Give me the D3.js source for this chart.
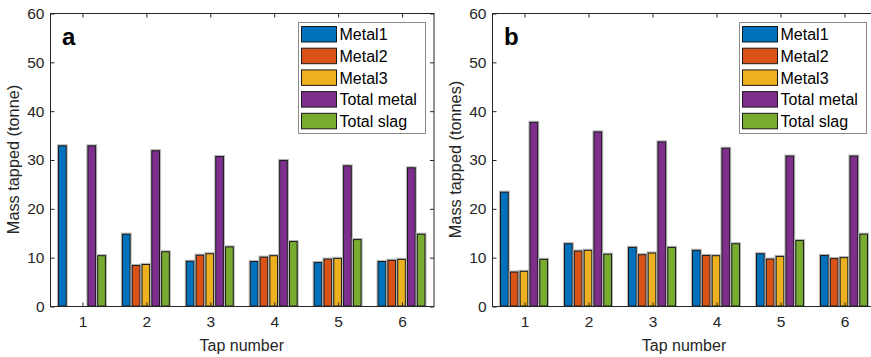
<!DOCTYPE html>
<html>
<head>
<meta charset="utf-8">
<script src="https://cdn.jsdelivr.net/npm/d3@7"></script>
<style>
  body { margin: 0; background: #fff; }
  svg { display: block; font-family: "Liberation Sans", Arial, sans-serif; }
</style>
</head>
<body>
<svg id="chart" width="871" height="357"></svg>
<script>
// values
var taps = [1, 2, 3, 4, 5, 6];
var seriesNames = ['Metal1', 'Metal2', 'Metal3', 'Total metal', 'Total slag'];
var seriesColors = ['#0072BD', '#D95319', '#EDB120', '#7E2F8E', '#77AC30'];
var yTicks = [0, 10, 20, 30, 40, 50, 60];

var metal1A = [32.8, 14.7, 9.15, 9.1, 8.9, 9.1];
var metal2A = [0, 8.3, 10.4, 10.0, 9.6, 9.35];
var metal3A = [0, 8.5, 10.7, 10.3, 9.75, 9.55];
var totalMetalA = [32.8, 31.8, 30.6, 29.8, 28.7, 28.3];
var totalSlagA = [10.3, 11.1, 12.1, 13.2, 13.6, 14.7];

var metal1B = [23.3, 12.75, 12.0, 11.4, 10.7, 10.35];
var metal2B = [6.95, 11.25, 10.5, 10.35, 9.6, 9.7];
var metal3B = [7.1, 11.4, 10.85, 10.3, 10.15, 9.9];
var totalMetalB = [37.6, 35.65, 33.6, 32.3, 30.7, 30.7];
var totalSlagB = [9.55, 10.6, 12.0, 12.75, 13.4, 14.7];

var ink = '#262626';
var svg = d3.select('#chart');

var panels = [
  {letter: 'a', ylabel: 'Mass tapped (tonne)', left: 50, right: 433.5, legendX: 298,
   series: [metal1A, metal2A, metal3A, totalMetalA, totalSlagA]},
  {letter: 'b', ylabel: 'Mass tapped (tonnes)', left: 492, right: 876, legendX: 739,
   series: [metal1B, metal2B, metal3B, totalMetalB, totalSlagB]}
];

var plotTop = 13, plotBottom = 306;
var groupWidth = 0.767;
var slot = groupWidth / seriesNames.length;

panels.forEach(function(p) {
  var x = d3.scaleLinear().domain([0.5, 6.5]).range([p.left, p.right]);
  var y = d3.scaleLinear().domain([0, 60]).range([plotBottom, plotTop]);
  var g = svg.append('g');
  var barW = (x(slot) - x(0)) * 0.78;

  // bars
  p.series.forEach(function(vals, j) {
    var bars = g.append('g');
    vals.forEach(function(v, i) {
      if (!v) return;
      var cx = x(taps[i] + (j - 2) * slot);
      // soft grey halo like the reference
      bars.append('rect')
        .attr('x', cx - barW / 2 - 0.5).attr('y', y(v) - 0.5)
        .attr('width', barW + 1).attr('height', y(0) - y(v) + 0.5)
        .attr('fill', 'none').attr('stroke', '#b8b8b8').attr('stroke-width', 2.2);
      bars.append('rect')
        .attr('x', cx - barW / 2).attr('y', y(v))
        .attr('width', barW).attr('height', y(0) - y(v))
        .attr('fill', seriesColors[j]).attr('stroke', '#1a1a1a').attr('stroke-width', 1);
    });
  });

  // box
  g.append('rect')
    .attr('x', p.left + 0.5).attr('y', plotTop + 0.5)
    .attr('width', p.right - p.left).attr('height', plotBottom - plotTop)
    .attr('fill', 'none').attr('stroke', ink).attr('stroke-width', 1);

  // axes with inward ticks
  var xAxis = d3.axisBottom(x).tickValues(taps).tickFormat(d3.format('d'))
    .tickSizeInner(-4).tickSizeOuter(0).tickPadding(9);
  var xTop = d3.axisTop(x).tickValues(taps).tickSizeInner(-4).tickSizeOuter(0).tickFormat('');
  var yAxis = d3.axisLeft(y).tickValues(yTicks).tickFormat(d3.format('d'))
    .tickSizeInner(-4).tickSizeOuter(0).tickPadding(6);
  var yRight = d3.axisRight(y).tickValues(yTicks).tickSizeInner(-4).tickSizeOuter(0).tickFormat('');

  [[xAxis, 'translate(0.5,' + (plotBottom + 0.5) + ')'],
   [xTop, 'translate(0.5,' + (plotTop + 0.5) + ')'],
   [yAxis, 'translate(' + (p.left + 0.5) + ',0.5)'],
   [yRight, 'translate(' + (p.right + 0.5) + ',0.5)']].forEach(function(a) {
    var ax = g.append('g').attr('transform', a[1]).call(a[0]);
    ax.select('.domain').remove();
    ax.selectAll('line').attr('stroke', ink);
    ax.selectAll('text').attr('fill', ink)
      .style('font-size', '15.5px').style('font-family', '"Liberation Sans", Arial, sans-serif');
  });

  // labels
  g.append('text')
    .attr('x', (p.left + p.right) / 2).attr('y', 351)
    .attr('text-anchor', 'middle').attr('fill', ink).style('font-size', '16px')
    .text('Tap number');
  g.append('text')
    .attr('transform', 'translate(' + (p.left - 31) + ',' + ((plotTop + plotBottom) / 2) + ') rotate(-90)')
    .attr('text-anchor', 'middle').attr('fill', ink).style('font-size', '16.3px')
    .text(p.ylabel);
  g.append('text')
    .attr('x', p.left + 12).attr('y', 45)
    .attr('fill', '#000').style('font-size', '24px').style('font-weight', 'bold')
    .text(p.letter);

  // legend
  var lg = g.append('g').attr('transform', 'translate(' + p.legendX + ',22)');
  lg.append('rect').attr('x', 0.5).attr('y', 0.5).attr('width', 127).attr('height', 111)
    .attr('fill', '#fff').attr('stroke', '#8a8a8a').attr('stroke-width', 1);
  seriesNames.forEach(function(name, j) {
    var row = lg.append('g').attr('transform', 'translate(3,' + (4.5 + j * 21.7) + ')');
    row.append('rect').attr('x', 0.5).attr('y', 0).attr('width', 35).attr('height', 15.5)
      .attr('fill', seriesColors[j]).attr('stroke', '#1a1a1a').attr('stroke-width', 1);
    row.append('text').attr('x', 38.5).attr('y', 13.8)
      .attr('fill', '#000').style('font-size', '16px').text(name);
  });
});
</script>
</body>
</html>
